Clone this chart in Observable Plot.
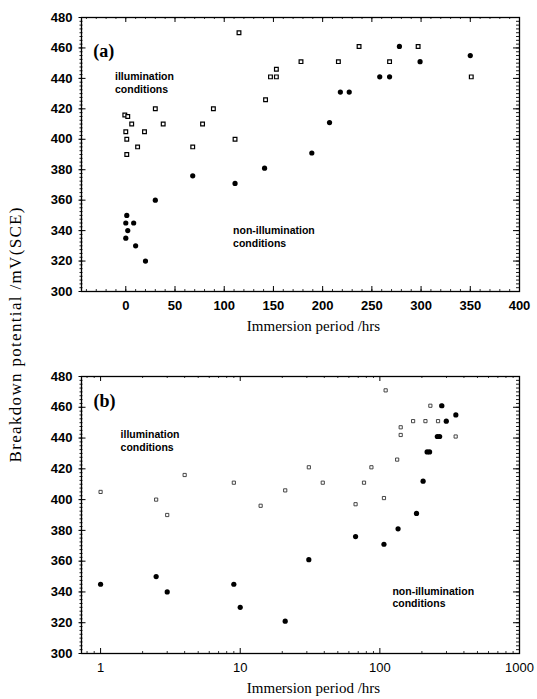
<!DOCTYPE html>
<html><head><meta charset="utf-8">
<script src="https://cdn.jsdelivr.net/npm/d3@7"></script>
<script src="https://cdn.jsdelivr.net/npm/@observablehq/plot@0.6"></script>
<style>
body{margin:0;background:#fff;}
#wrap{position:relative;width:537px;height:699px;background:#fff;overflow:hidden;}
#wrap > .pan{position:absolute;left:0;}
</style></head><body><div id="wrap"></div>
<script>
// ---- Panel (a): linear immersion period ----
const illumHoursA = [-1,2,0,1,1,6,12,19,30,38,68,78,89,111,115,142,147,153,153,178,216,237,268,297,351];
const illumPotA   = [416,415,405,400,390,410,395,405,420,410,395,410,420,400,470,426,441,441,446,451,451,461,451,461,441];
const darkHoursA  = [0,0,1,2,8,10,20,30,68,111,141,189,207,218,227,258,268,278,299,350];
const darkPotA    = [335,345,350,340,345,330,320,360,376,371,381,391,411,431,431,441,441,461,451,455];

// ---- Panel (b): log immersion period ----
const illumHoursB = [1,2.5,3,4,9,14,21,31,39,67,77,87,107,110,133,141,141,173,212,230,261,276,349];
const illumPotB   = [405,400,390,416,411,396,406,421,411,397,411,421,401,471,426,442,447,451,451,461,451,461,441];
const darkHoursB  = [1,2.5,3,9,10,21,31,67,107,135,183,204,218,227,258,268,278,299,350];
const darkPotB    = [345,350,340,345,330,321,361,376,371,381,391,412,431,431,441,441,461,451,455];

// ---- tick labels / text ----
const yTicks = [300,320,340,360,380,400,420,440,460,480];
const xTicksA = [0,50,100,150,200,250,300,350,400];
const xTicksB = [1,10,100,1000];
const xTitle = "Immersion period /hrs";
const yTitle = "Breakdown potential /mV(SCE)";
const panelA = "(a)", panelB = "(b)";
const illumLabel = "illumination\nconditions";
const darkLabel = "non-illumination\nconditions";

const yMinor = d3.range(300, 480.01, 2.5);
const xMinorA = d3.range(-40, 400.01, 10);
const xMinorB = [0.8,0.9].concat(...[1,10,100].map(d => d3.range(2,10).map(k => k*d)));

const toRows = (xs, ys) => xs.map((x, i) => ({x, y: ys[i]}));

const W = 537, ML = 81, MR = 18, MT = 17;
const PW = W - ML - MR;

function panel({xOpts, xTicks, xMinor, illum, dark, PH, MB, label, labelPos, illumPos, darkPos, sqR, sqStroke, sqW, xLabelWeight}) {
  const H = MT + PH + MB;
  const txt = (t, p, extra) => Plot.text([t], {x: () => p[0], y: () => p[1], text: d => d, ...extra});
  return Plot.plot({
    width: W, height: H,
    marginLeft: ML, marginRight: MR, marginTop: MT, marginBottom: MB,
    x: xOpts,
    y: {domain: [300, 480]},
    style: {fontFamily: "'Liberation Sans', Arial, sans-serif", fontSize: "13px", fontWeight: "bold", color: "#000", background: "#fff", overflow: "visible"},
    marks: [
      // ticks
      Plot.tickY(yMinor, {y: d => d, insetRight: PW - 3, dx: -1.5, stroke: "#000", strokeWidth: 0.9}),
      Plot.tickY(yTicks, {y: d => d, insetRight: PW - 7, dx: -2.5, stroke: "#000", strokeWidth: 1}),
      Plot.tickY(yMinor, {y: d => d, insetLeft: PW - 3, stroke: "#000", strokeWidth: 0.9}),
      Plot.tickY(yTicks, {y: d => d, insetLeft: PW - 6, stroke: "#000", strokeWidth: 1}),
      Plot.tickX(xMinor, {x: d => d, insetBottom: PH - 2, stroke: "#000", strokeWidth: 0.8}),
      Plot.tickX(xTicks, {x: d => d, insetBottom: PH - 5, stroke: "#000", strokeWidth: 1}),
      Plot.tickX(xMinor, {x: d => d, insetTop: PH - 2, stroke: "#000", strokeWidth: 0.8}),
      Plot.tickX(xTicks, {x: d => d, insetTop: PH - 5, stroke: "#000", strokeWidth: 1}),
      Plot.frame({stroke: "#000", strokeWidth: 1.3}),
      Plot.axisY(yTicks, {tickSize: 0, tickPadding: 9, label: null}),
      Plot.axisX(xTicks, {tickSize: 0, tickPadding: 9, label: null, tickFormat: d => String(d), fontWeight: xLabelWeight}),
      // data
      Plot.dot(illum, {x: "x", y: "y", symbol: "square", r: sqR, fill: "#fff", stroke: sqStroke, strokeWidth: sqW}),
      Plot.dot(dark, {x: "x", y: "y", r: 2.6, fill: "#000", stroke: "none"}),
      // annotations
      txt(label, labelPos, {textAnchor: "start", fontFamily: "'Liberation Serif', 'Times New Roman', serif", fontSize: 18, fontWeight: "bold"}),
      txt(illumLabel, illumPos, {textAnchor: "start", fontSize: 10.5, fontWeight: "bold", lineHeight: 1.2}),
      txt(darkLabel, darkPos, {textAnchor: "start", fontSize: 10.5, fontWeight: "bold", lineHeight: 1.2}),
      Plot.text([xTitle], {frameAnchor: "bottom", dy: 39, dx: 13, text: d => d, fontFamily: "'Liberation Serif', 'Times New Roman', serif", fontSize: 15, fontWeight: "normal"})
    ]
  });
}

const wrap = document.getElementById("wrap");

const a = panel({
  xOpts: {type: "linear", domain: [-45, 400]},
  xTicks: xTicksA, xMinor: xMinorA,
  illum: toRows(illumHoursA, illumPotA), dark: toRows(darkHoursA, darkPotA),
  PH: 274, MB: 49,
  label: panelA, labelPos: [-33, 458],
  illumPos: [-11, 437.5], darkPos: [109, 336],
  sqR: 2.1, sqStroke: "#000", sqW: 1.2, xLabelWeight: "bold"
});
const divA = document.createElement("div"); divA.className = "pan"; divA.style.top = "0px";
divA.appendChild(a); wrap.appendChild(divA);

const b = panel({
  xOpts: {type: "log", domain: [0.73, 1000]},
  xTicks: xTicksB, xMinor: xMinorB,
  illum: toRows(illumHoursB, illumPotB), dark: toRows(darkHoursB, darkPotB),
  PH: 277, MB: 46,
  label: panelB, labelPos: [0.89, 464],
  illumPos: [1.39, 438.4], darkPos: [123, 336.7],
  sqR: 1.8, sqStroke: "#333", sqW: 0.9, xLabelWeight: "normal"
});
const divB = document.createElement("div"); divB.className = "pan"; divB.style.top = "359px";
divB.appendChild(b); wrap.appendChild(divB);

// shared y-axis title
const svg = d3.create("svg").attr("width", 34).attr("height", 699)
  .style("position", "absolute").style("left", "0px").style("top", "0px");
svg.append("text")
  .attr("transform", "translate(21,335) rotate(-90)")
  .attr("text-anchor", "middle")
  .attr("font-family", "'Liberation Serif', 'Times New Roman', serif")
  .attr("font-size", 17)
  .attr("textLength", 255).attr("lengthAdjust", "spacing")
  .attr("fill", "#000")
  .text(yTitle);
wrap.appendChild(svg.node());
</script></body></html>
